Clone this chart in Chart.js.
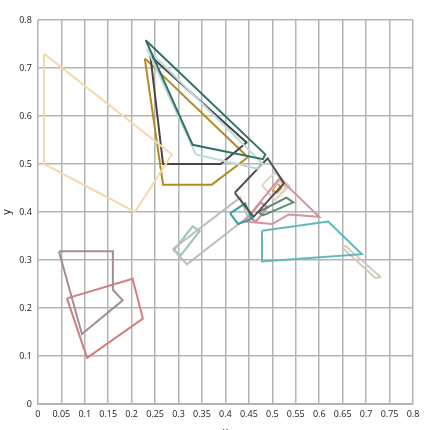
<!DOCTYPE html>
<html lang="en">
<head>
  <meta charset="UTF-8">
  <title>Polygons</title>
  <script src="https://cdn.jsdelivr.net/npm/chart.js"></script>
  <style>
    html, body { margin: 0; padding: 0; background: #fff; }
    #wrap { width: 430px; height: 430px; }
  </style>
</head>
<body>
  <div id="wrap"><canvas id="polyChart"></canvas></div>
  <script>
    // each shape: list of [x, y] vertices, closed when drawn
    const shapeColors = [
      '#f5d9ae', '#2f7268', '#bcdcda', '#464646', '#b38b22',
      '#505050', '#3a9e9e', '#d4939b', '#e4d3c8', '#d8c6bc',
      '#d9a23a', '#5d8c6c', '#cf8a90', '#bdbdbd', '#92c8b4',
      '#62b8b6', '#d2ccbc', '#a48f90', '#cf7f7f'
    ];
    const shapes = [
      [[0.013, 0.73], [0.013, 0.50], [0.207, 0.40], [0.286, 0.52]],
      [[0.23, 0.758], [0.33, 0.54], [0.48, 0.51], [0.485, 0.52]],
      [[0.233, 0.74], [0.337, 0.52], [0.47, 0.49], [0.48, 0.50]],
      [[0.24, 0.725], [0.267, 0.50], [0.39, 0.50], [0.445, 0.545]],
      [[0.228, 0.72], [0.267, 0.457], [0.371, 0.457], [0.448, 0.514]],
      [[0.42, 0.44], [0.49, 0.512], [0.525, 0.46], [0.46, 0.39]],
      [[0.41, 0.397], [0.442, 0.418], [0.457, 0.386], [0.427, 0.375]],
      [[0.44, 0.38], [0.515, 0.47], [0.60, 0.39], [0.535, 0.395], [0.50, 0.375]],
      [[0.478, 0.456], [0.505, 0.482], [0.537, 0.454], [0.505, 0.425]],
      [[0.49, 0.44], [0.515, 0.465], [0.53, 0.45], [0.505, 0.425]],
      [[0.50, 0.445], [0.51, 0.46], [0.52, 0.45], [0.51, 0.44]],
      [[0.47, 0.40], [0.53, 0.43], [0.545, 0.42], [0.48, 0.393]],
      [[0.45, 0.39], [0.475, 0.42], [0.49, 0.41], [0.465, 0.38]],
      [[0.288, 0.323], [0.318, 0.291], [0.448, 0.39], [0.431, 0.43]],
      [[0.29, 0.32], [0.33, 0.37], [0.345, 0.36], [0.305, 0.31]],
      [[0.478, 0.361], [0.478, 0.297], [0.691, 0.312], [0.619, 0.38]],
      [[0.655, 0.33], [0.73, 0.265], [0.72, 0.262], [0.65, 0.325]],
      [[0.045, 0.318], [0.16, 0.318], [0.16, 0.238], [0.181, 0.216], [0.094, 0.146]],
      [[0.062, 0.22], [0.202, 0.261], [0.224, 0.178], [0.105, 0.096]]
    ];
    const xTicks = ['0', '0.05', '0.1', '0.15', '0.2', '0.25', '0.3', '0.35', '0.4', '0.45', '0.5', '0.55', '0.6', '0.65', '0.7', '0.75', '0.8'];
    const yTicks = ['0', '0.1', '0.2', '0.3', '0.4', '0.5', '0.6', '0.7', '0.8'];

    const datasets = shapes.map((pts, i) => ({
      data: pts.concat([pts[0]]).map(p => ({ x: p[0], y: p[1] })),
      borderColor: shapeColors[i],
      borderWidth: 2,
      showLine: true,
      pointRadius: 0,
      fill: false
    }));

    const tickFont = { family: 'Open Sans', size: 9 };
    new Chart(document.getElementById('polyChart'), {
      type: 'scatter',
      data: { datasets },
      options: {
        responsive: true,
        maintainAspectRatio: false,
        animation: false,
        layout: { padding: { top: 20, right: 17, left: 0, bottom: -8 } },
        plugins: { legend: { display: false }, tooltip: { enabled: false } },
        scales: {
          x: {
            min: 0, max: 0.8,
            grid: { color: '#b4b4b4', lineWidth: 1.5, drawTicks: false },
            border: { color: '#b4b4b4' },
            ticks: {
              stepSize: 0.05, padding: 5, color: '#222', font: tickFont,
              maxRotation: 0, autoSkip: false,
              callback: (v, i) => xTicks[i]
            },
            title: { display: true, text: 'x', color: '#222', font: { family: 'Open Sans', size: 11 }, padding: 0 }
          },
          y: {
            min: 0, max: 0.8,
            grid: { color: '#b4b4b4', lineWidth: 1.5, drawTicks: false },
            border: { color: '#b4b4b4' },
            ticks: {
              stepSize: 0.1, padding: 6, color: '#222', font: tickFont,
              callback: (v, i) => yTicks[i]
            },
            title: { display: true, text: 'y', color: '#222', font: { family: 'Open Sans', size: 11 }, padding: 0 }
          }
        }
      }
    });
  </script>
</body>
</html>
